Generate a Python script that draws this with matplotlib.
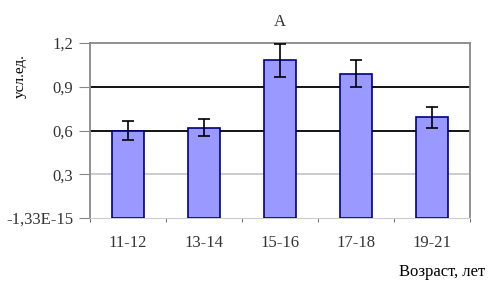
import matplotlib
matplotlib.use("Agg")
import matplotlib.pyplot as plt
import numpy as np

plt.rcParams['font.family'] = ['Liberation Serif', 'DejaVu Serif']

groups = ["11-12", "13-14", "15-16", "17-18", "19-21"]
values = [0.60, 0.62, 1.08, 0.99, 0.69]
errors = [0.065, 0.06, 0.11, 0.095, 0.07]
yticks = [0, 0.3, 0.6, 0.9, 1.2]
ylabels = ["-1,33E-15", "0,3", "0,6", "0,9", "1,2"]

fig = plt.figure(figsize=(4.99, 2.95), dpi=100)
ax = fig.add_axes([90/499, 1-218/295, 380/499, 175/295])

x = np.arange(len(groups))
ax.bar(x, values, width=0.42, color='#9999ff', edgecolor='#000080', linewidth=1.2, zorder=3)
ax.errorbar(x, values, yerr=errors, fmt='none', ecolor='black', elinewidth=1.2,
            capsize=4, capthick=1.2, zorder=4)

ax.set_xlim(-0.5, len(groups) - 0.5)
ax.set_ylim(0, 1.2)
ax.set_yticks(yticks)
ax.set_yticklabels(ylabels, fontsize=12, color='#333333')
ax.set_xticks(x)
ax.set_xticklabels(groups, fontsize=12, color='#333333')
ax.set_xticks(np.arange(len(groups) + 1) - 0.5, minor=True)
ax.tick_params(axis='x', which='major', length=0, pad=12)
ax.tick_params(axis='x', which='minor', length=3, color='#555555')
ax.tick_params(axis='y', length=8, color='#888888', pad=4)

for v, c in [(0.3, '#c8c8c8'), (0.6, 'black'), (0.9, 'black')]:
    ax.axhline(v, color=c, linewidth=1.3, zorder=1)

for s in ['left', 'right', 'top']:
    ax.spines[s].set_color('#888888')
    ax.spines[s].set_linewidth(1.3)
ax.spines['bottom'].set_color('#cccccc')

ax.set_title("А", fontsize=12, color='#333333', pad=12)
fig.text(20/499, 1-76/295, "усл.ед.", rotation=90, ha='center', va='center', fontsize=11)
fig.text(442/499, 1-272/295, "Возраст, лет", ha='center', va='center', fontsize=12)

fig.savefig("out.png", dpi=100)
